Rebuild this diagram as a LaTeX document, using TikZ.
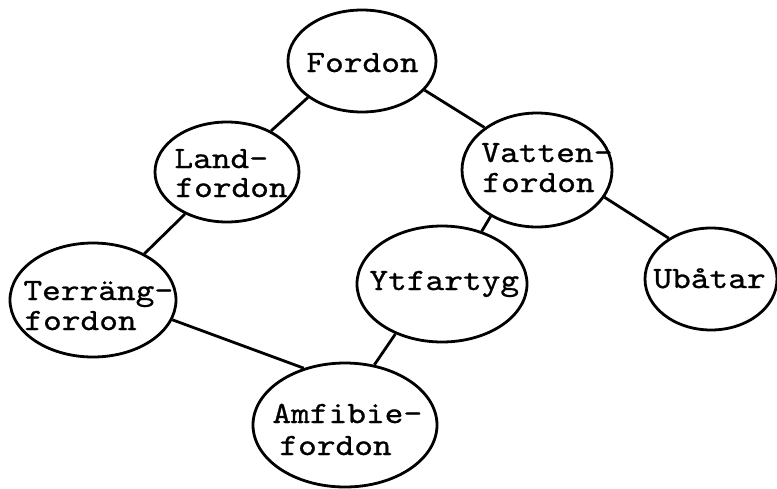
\documentclass[tikz,border=0pt]{standalone}
\usepackage{fontspec}
\newfontfamily\courlike{lmmono10-regular.otf}[FakeStretch=1.15,FakeBold=0.8]
\usetikzlibrary{shapes.geometric}
\begin{document}
\begin{tikzpicture}[x=0.5pt,y=-0.5pt,
  oval/.style={draw, ellipse, line width=1.4pt, inner sep=0pt},
  txt/.style={anchor=base west, inner sep=0pt, font=\courlike\fontsize{15.5}{15}\selectfont},
  link/.style={line width=1.4pt}]
\useasboundingbox (0,0) rectangle (777,488);
% ellipses (minimum width = rx pt, minimum height = ry pt since 1px = 0.5pt)
\node[oval, minimum width=74pt, minimum height=51pt] (fordon) at (362,61) {};
\node[oval, minimum width=72pt, minimum height=50pt] (land) at (227,172) {};
\node[oval, minimum width=75pt, minimum height=57pt] (vatten) at (537,170) {};
\node[oval, minimum width=83pt, minimum height=57pt] (terr) at (93,300) {};
\node[oval, minimum width=85pt, minimum height=58pt] (ytf) at (442,284) {};
\node[oval, minimum width=66pt, minimum height=51pt] (ubat) at (711,279) {};
\node[oval, minimum width=92pt, minimum height=62pt] (amf) at (345,425) {};
% texts
\node[txt] (fordon-t) at (306,72) {Fordon};
\node[txt] (land-t1) at (174,168) {Land-};
\node[txt] (land-t2) at (175,197) {fordon};
\node[txt] (vatten-t1) at (481,162) {Vatten-};
\node[txt] (vatten-t2) at (482,192) {fordon};
\node[txt] (terr-t1) at (23,300) {Terräng-};
\node[txt] (terr-t2) at (24,330) {fordon};
\node[txt] (ytf-t) at (369,290) {Ytfartyg};
\node[txt] (ubat-t) at (653,288) {Ubåtar};
\node[txt] (amf-t1) at (272,423) {Amfibie-};
\node[txt] (amf-t2) at (279,455) {fordon};
% connectors
\draw[link] (fordon.214) -- (land.43);
\draw[link] (fordon.335) -- (vatten.141);
\draw[link] (land.225) -- (terr.42);
\draw[link] (vatten.225) -- (ytf.53);
\draw[link] (vatten.338) -- (ubat.136);
\draw[link] (terr.346) -- (amf.126);
\draw[link] (ytf.227) -- (amf.64);
\end{tikzpicture}
\end{document}
